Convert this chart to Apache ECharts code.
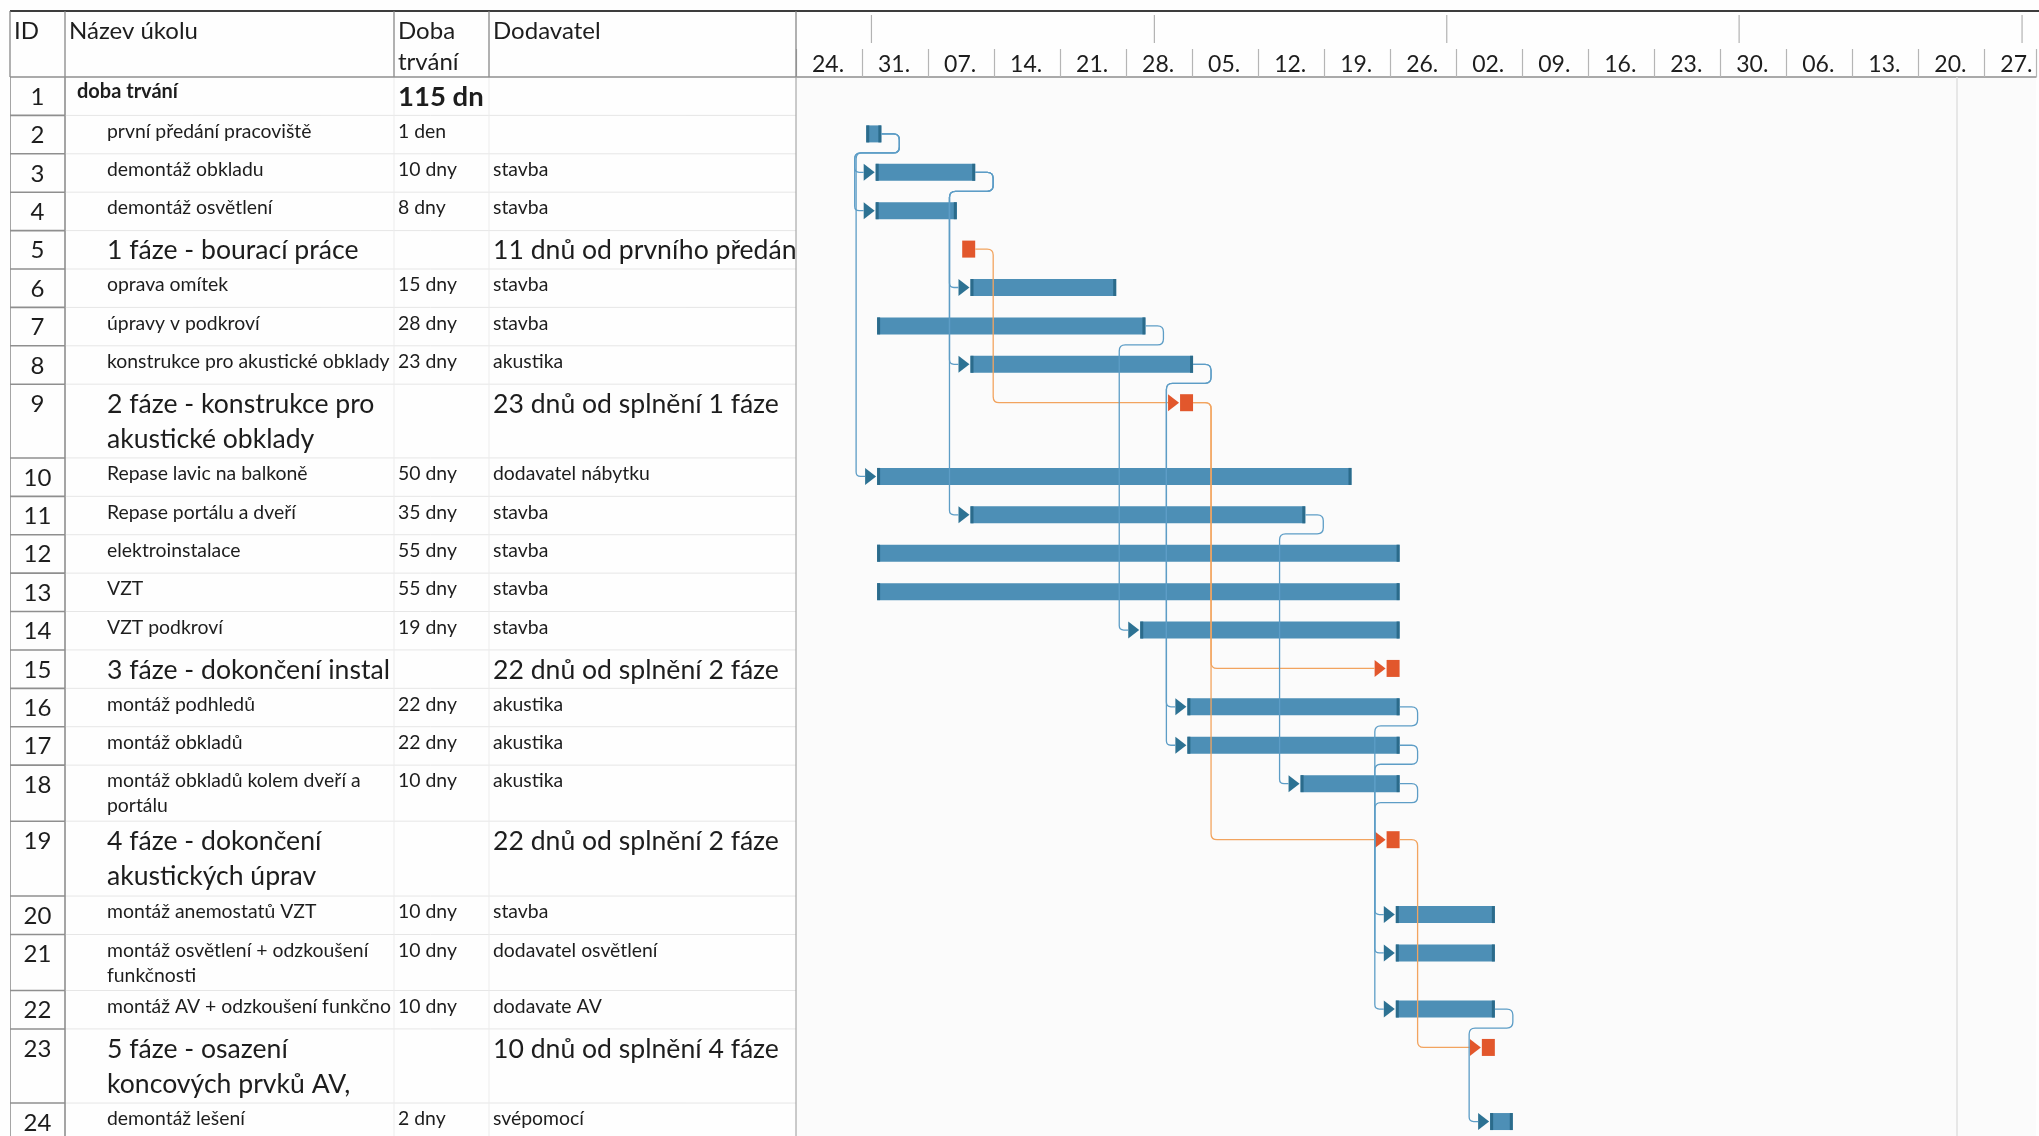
<!DOCTYPE html>
<html lang="cs">
<head>
<meta charset="utf-8">
<title>Harmonogram</title>
<script src="https://cdn.jsdelivr.net/npm/echarts@6/dist/echarts.min.js"></script>
<style>
html,body{margin:0;padding:0;background:#fefefe;}
#chart{width:2039px;height:1136px;}
</style>
</head>
<body>
<div id="chart"></div>
<script>
// ---------------- DATA ----------------
const columnHeaders = ['ID', 'Název úkolu', 'Doba trvání', 'Dodavatel'];
const taskIds = [1,2,3,4,5,6,7,8,9,10,11,12,13,14,15,16,17,18,19,20,21,22,23,24];
const taskNames = [
  'doba trvání',
  'první předání pracoviště',
  'demontáž obkladu',
  'demontáž osvětlení',
  '1 fáze - bourací práce',
  'oprava omítek',
  'úpravy v podkroví',
  'konstrukce pro akustické obklady',
  '2 fáze - konstrukce pro akustické obklady',
  'Repase lavic na balkoně',
  'Repase portálu a dveří',
  'elektroinstalace',
  'VZT',
  'VZT podkroví',
  '3 fáze - dokončení instalací',
  'montáž podhledů',
  'montáž obkladů',
  'montáž obkladů kolem dveří a portálu',
  '4 fáze - dokončení akustických úprav',
  'montáž anemostatů VZT',
  'montáž osvětlení + odzkoušení funkčnosti',
  'montáž AV + odzkoušení funkčnosti',
  '5 fáze - osazení koncových prvků AV,',
  'demontáž lešení'
];
const durations = ['115 dny','1 den','10 dny','8 dny','','15 dny','28 dny','23 dny','','50 dny','35 dny','55 dny',
  '55 dny','19 dny','','22 dny','22 dny','10 dny','','10 dny','10 dny','10 dny','','2 dny'];
const suppliers = ['','','stavba','stavba','11 dnů od prvního předání pracoviště','stavba','stavba','akustika',
  '23 dnů od splnění 1 fáze','dodavatel nábytku','stavba','stavba','stavba','stavba','22 dnů od splnění 2 fáze',
  'akustika','akustika','akustika','22 dnů od splnění 2 fáze','stavba','dodavatel osvětlení','dodavate AV',
  '10 dnů od splnění 4 fáze','svépomocí'];
const taskKinds = ['summary','task','task','task','phase','task','task','task','phase','task','task','task',
  'task','task','phase','task','task','task','phase','task','task','task','phase','task'];
// bar extents in days from the first timeline week (24.)
const barStart = [null,7.45,8.45,8.45,null,18.5,8.6,18.5,null,8.6,18.5,8.6,8.6,36.5,null,41.5,41.5,53.5,null,63.6,63.6,63.6,null,73.6];
const barEnd   = [null,9.05,19.0,17.05,null,33.95,37.05,42.1,null,58.9,54.0,64.0,64.0,64.0,null,64.0,64.0,64.0,null,74.1,74.1,74.1,null,76.0];
const milestoneDay = [null,null,null,null,19.0,null,null,null,42.1,null,null,null,null,null,64.0,null,null,null,64.0,null,null,null,74.1,null];
// dependencies [predecessor ID, successor ID]
const links = [[2,3],[2,4],[2,10],[3,6],[3,8],[3,11],[5,9],[7,14],[8,16],[8,17],[9,15],[9,19],[11,18],
  [16,20],[17,21],[18,22],[19,23],[22,24]];
const weekLabels = ['24.','31.','07.','14.','21.','28.','05.','12.','19.','26.','02.','09.','16.','23.','30.','06.','13.','20.','27.'];
const monthTickDays = [8, 38, 69, 100, 130];
const statusLineDay = [123.1];

// ---------------- LAYOUT ----------------
const FONT = 'Lato, "Open Sans", "DejaVu Sans", sans-serif';
const CANVAS_W = 2039, CANVAS_H = 1136;
const HEADER_TOP = 11, HEADER_BOTTOM = 77;
const COL_X = [10, 65, 394, 489, 796];
const HEADER_TEXT_X = [14, 69, 398, 493];
const PX_PER_DAY = 9.454;
const ROW_UNIT = 38.4;
const TALL_ROW_SPAN = {9: 1.92, 18: 1.46, 19: 1.95, 21: 1.46, 23: 1.93};
const ROW_SPAN = taskIds.map(id => TALL_ROW_SPAN[id] || 1);
const ROW_TOP = [];
(function(){ let acc = 0; ROW_SPAN.forEach(s => { ROW_TOP.push(acc); acc += s; }); })();
const Y_MAX = (CANVAS_H - HEADER_BOTTOM) / ROW_UNIT;
const X_MAX = (CANVAS_W - COL_X[4]) / PX_PER_DAY;
const BAR_CENTER_PX = 18.5, BAR_H = 17, BAR_CAP = 3, ARROW_W = 11, MS_W = 13;
const FS_SMALL = 19.4, FS_BIG = 26.6, FS_HEAD = 24, FS_ID = 24, FS_WEEK = 23;
const C_BAR = '#4d8fb6', C_CAP = '#2b6b8b', C_ARROW = '#2d7293', C_MS = '#e2572c';
const C_LINK = '#5d9dc6', C_LINK_MS = '#f2a45f';
const TEXT_C = '#1d1d1d';

const linkTargets = new Set(links.map(l => l[1] - 1));
function barY(i) { return ROW_TOP[i] + BAR_CENTER_PX / ROW_UNIT; }

// accurate text measuring (cell clipping / wrapping like a spreadsheet)
const mctx = document.createElement('canvas').getContext('2d');
function measure(str, fs, weight) {
  mctx.font = (weight || 'normal') + ' ' + fs + 'px ' + FONT;
  return mctx.measureText(str).width;
}
function clipToWidth(str, fs, w, weight) {
  if (measure(str, fs, weight) <= w) return str;
  let s = str;
  while (s.length > 0) {
    const full = measure(s, fs, weight);
    const last = measure(s.slice(-1), fs, weight);
    if (full - last * 0.45 <= w) break;
    s = s.slice(0, -1);
  }
  return s;
}
function wrapToWidth(str, fs, w, weight) {
  const words = str.split(' ');
  const lines = [];
  let cur = '';
  words.forEach(wd => {
    const cand = cur ? cur + ' ' + wd : wd;
    if (!cur || measure(cand, fs, weight) <= w) cur = cand;
    else { lines.push(cur); cur = wd; }
  });
  if (cur) lines.push(cur);
  return lines.join('\n');
}

function txt(str, x, y, o) {
  return { type: 'text', silent: true,
    style: Object.assign({ legacy: false, text: str, x: x, y: y, fill: TEXT_C, fontFamily: FONT,
      fontSize: FS_SMALL, fontWeight: 'normal', align: 'left', verticalAlign: 'top' }, o || {}) };
}
function seg(x1, y1, x2, y2, c, w) {
  return { type: 'line', silent: true, shape: { x1: x1, y1: y1, x2: x2, y2: y2 }, style: { stroke: c, lineWidth: w } };
}
function arrow(x, y, c) {
  return { type: 'polygon', shape: { points: [[x - ARROW_W - 1, y - BAR_H / 2], [x - 1, y], [x - ARROW_W - 1, y + BAR_H / 2]] },
    style: { fill: c } };
}
function roundedPath(pts, r) {
  let d = 'M' + pts[0][0].toFixed(2) + ' ' + pts[0][1].toFixed(2);
  for (let k = 1; k < pts.length - 1; k++) {
    const a = pts[k - 1], p = pts[k], b = pts[k + 1];
    const l1 = Math.hypot(p[0] - a[0], p[1] - a[1]) || 1, l2 = Math.hypot(b[0] - p[0], b[1] - p[1]) || 1;
    const rr = Math.min(r, l1 / 2, l2 / 2);
    const p1 = [p[0] - (p[0] - a[0]) / l1 * rr, p[1] - (p[1] - a[1]) / l1 * rr];
    const p2 = [p[0] + (b[0] - p[0]) / l2 * rr, p[1] + (b[1] - p[1]) / l2 * rr];
    d += ' L' + p1[0].toFixed(2) + ' ' + p1[1].toFixed(2) + ' Q' + p[0].toFixed(2) + ' ' + p[1].toFixed(2) + ' ' + p2[0].toFixed(2) + ' ' + p2[1].toFixed(2);
  }
  const e = pts[pts.length - 1];
  d += ' L' + e[0].toFixed(2) + ' ' + e[1].toFixed(2);
  return d;
}

function renderTableRow(params, api) {
  const i = api.value(0);
  const y0 = api.coord([0, ROW_TOP[i]])[1];
  const y1 = api.coord([0, ROW_TOP[i] + ROW_SPAN[i]])[1];
  const kind = taskKinds[i];
  const tall = ROW_SPAN[i] > 1;
  const big = kind === 'phase';
  const ch = [];
  ch.push(seg(COL_X[1], y1, COL_X[4], y1, '#e6e6e6', 1));
  ch.push(seg(COL_X[2], y0, COL_X[2], y1, '#ececec', 1));
  ch.push(seg(COL_X[3], y0, COL_X[3], y1, '#ececec', 1));
  ch.push(seg(COL_X[0], y1, COL_X[1], y1, '#8f8f8f', 1.6));
  ch.push(seg(COL_X[0], y0, COL_X[0], y1, '#8f8f8f', 1.6));
  ch.push(seg(COL_X[1], y0, COL_X[1], y1, '#8f8f8f', 1.6));
  ch.push(txt(String(taskIds[i]), (COL_X[0] + COL_X[1]) / 2, y0 + 20, { fontSize: FS_ID, align: 'center', verticalAlign: 'middle' }));
  const nameX = kind === 'summary' ? 77 : 107;
  const durX = COL_X[2] + 4, supX = COL_X[3] + 4;
  if (kind === 'summary') {
    ch.push(txt(taskNames[i], nameX, y0 + 15, { fontSize: 20, fontWeight: 'bold', verticalAlign: 'middle' }));
    ch.push(txt(clipToWidth(durations[i], 27.5, COL_X[3] - durX, 'bold'), durX, y0 + 20.5,
      { fontSize: 27.5, fontWeight: 'bold', verticalAlign: 'middle' }));
  } else {
    const fs = big ? FS_BIG : FS_SMALL, lh = big ? 35 : 25;
    const top = y0 + (big ? 20 : 16) - lh / 2;
    const topSmall = y0 + 16 - 12.5;
    const nameW = COL_X[2] - nameX;
    const name = tall ? wrapToWidth(taskNames[i], fs, nameW - 11) : clipToWidth(taskNames[i], fs, nameW);
    ch.push(txt(name, nameX, top, { fontSize: fs, lineHeight: lh }));
    if (durations[i]) ch.push(txt(clipToWidth(durations[i], FS_SMALL, COL_X[3] - durX), durX, topSmall, { fontSize: FS_SMALL, lineHeight: 25 }));
    if (suppliers[i]) ch.push(txt(clipToWidth(suppliers[i], fs, COL_X[4] - supX), supX, big ? top : topSmall, { fontSize: fs, lineHeight: lh }));
  }
  return { type: 'group', children: ch };
}

function renderBar(params, api) {
  const s = api.value(0), e = api.value(1), i = api.value(2);
  const p0 = api.coord([s, barY(i)]), p1 = api.coord([e, barY(i)]);
  const y = p0[1] - BAR_H / 2;
  const ch = [
    { type: 'rect', shape: { x: p0[0], y: y, width: p1[0] - p0[0], height: BAR_H }, style: { fill: C_BAR } },
    { type: 'rect', shape: { x: p0[0], y: y, width: BAR_CAP, height: BAR_H }, style: { fill: C_CAP } },
    { type: 'rect', shape: { x: p1[0] - BAR_CAP, y: y, width: BAR_CAP, height: BAR_H }, style: { fill: C_CAP } }
  ];
  if (linkTargets.has(i)) ch.push(arrow(p0[0], p0[1], C_ARROW));
  return { type: 'group', children: ch };
}

function renderMilestone(params, api) {
  const d = api.value(0), i = api.value(1);
  const p = api.coord([d, barY(i)]);
  const ch = [{ type: 'rect', shape: { x: p[0] - MS_W, y: p[1] - BAR_H / 2, width: MS_W, height: BAR_H }, style: { fill: C_MS } }];
  if (linkTargets.has(i)) ch.push(arrow(p[0] - MS_W, p[1], C_MS));
  return { type: 'group', children: ch };
}

function renderLink(params, api) {
  const k = api.value(0);
  const a = links[k][0] - 1, b = links[k][1] - 1;
  const endA = taskKinds[a] === 'phase' ? milestoneDay[a] : barEnd[a];
  const pe = api.coord([endA, barY(a)]);
  let ps;
  if (taskKinds[b] === 'phase') { ps = api.coord([milestoneDay[b], barY(b)]); ps[0] -= MS_W; }
  else ps = api.coord([barStart[b], barY(b)]);
  const xe = pe[0], yp = pe[1], xs = ps[0], ys = ps[1];
  const xv = xe + 18, tip = xs - ARROW_W - 1;
  let pts;
  if (xv <= xs - 21) pts = [[xe, yp], [xv, yp], [xv, ys], [tip, ys]];
  else {
    const ym = yp + 19, xl = xs - 21;
    pts = [[xe, yp], [xv, yp], [xv, ym], [xl, ym], [xl, ys], [tip, ys]];
  }
  const col = taskKinds[a] === 'phase' ? C_LINK_MS : C_LINK;
  return { type: 'path', shape: { pathData: roundedPath(pts, 6) }, style: { stroke: col, lineWidth: 1.3, fill: 'none' } };
}

// header graphic
const headerEls = [];
headerEls.push({ type: 'rect', z: 100, silent: true, shape: { x: COL_X[0], y: HEADER_TOP - 1, width: CANVAS_W - COL_X[0], height: 2 }, style: { fill: '#3d3d3d' } });
COL_X.forEach(x => headerEls.push(Object.assign(seg(x, HEADER_TOP, x, HEADER_BOTTOM, '#7d7d7d', 1.2), { z: 100 })));
headerEls.push(Object.assign(seg(COL_X[0], HEADER_BOTTOM, COL_X[4], HEADER_BOTTOM, '#8f8f8f', 1.5), { z: 100 }));
headerEls.push(Object.assign(seg(COL_X[4], HEADER_BOTTOM, COL_X[4], CANVAS_H, '#a8a8a8', 1.2), { z: 100 }));
columnHeaders.forEach((h, k) => {
  const t = txt(wrapToWidth(h, FS_HEAD, COL_X[k + 1] - HEADER_TEXT_X[k] - 4), HEADER_TEXT_X[k], 15.5, { fontSize: FS_HEAD, lineHeight: 31 });
  t.z = 100;
  headerEls.push(t);
});

const chart = echarts.init(document.getElementById('chart'), null, { renderer: 'canvas' });
chart.setOption({
  backgroundColor: '#fefefe',
  animation: false,
  graphic: { elements: headerEls },
  grid: [
    { left: COL_X[0], top: HEADER_BOTTOM, width: COL_X[4] - COL_X[0], bottom: 0 },
    { left: COL_X[4], top: HEADER_BOTTOM, right: 0, bottom: 0, show: true, backgroundColor: '#fbfbfb', borderWidth: 0 }
  ],
  xAxis: [
    { type: 'value', gridIndex: 0, min: 0, max: 1, show: false },
    { type: 'value', gridIndex: 1, position: 'top', min: 0, max: X_MAX, interval: 7,
      axisLine: { show: true, lineStyle: { color: '#8f8f8f', width: 1.5 } },
      axisTick: { show: true, length: 28, lineStyle: { color: '#b5b5b5', width: 1.2 } },
      splitLine: { show: false },
      axisLabel: { show: true, margin: 1, align: 'left', padding: [0, 0, 0, 16], color: TEXT_C,
        fontFamily: FONT, fontSize: FS_WEEK,
        formatter: function (v) { const k = Math.round(v / 7); return (Math.abs(v - 7 * k) < 0.01 && weekLabels[k]) ? weekLabels[k] : ''; } } }
  ],
  yAxis: [
    { type: 'value', gridIndex: 0, min: 0, max: Y_MAX, inverse: true, show: false },
    { type: 'value', gridIndex: 1, min: 0, max: Y_MAX, inverse: true, show: false }
  ],
  series: [
    { type: 'custom', name: 'tabulka', xAxisIndex: 0, yAxisIndex: 0, clip: true, silent: true,
      data: taskIds.map((id, i) => [i]), renderItem: renderTableRow },
    { type: 'custom', name: 'měsíce', xAxisIndex: 1, yAxisIndex: 1, clip: false, silent: true,
      data: monthTickDays.map(d => [d]),
      renderItem: function (p, api) { const x = api.coord([api.value(0), 0])[0];
        return seg(x, 15, x, 43, '#b3b3b3', 1.2); } },
    { type: 'custom', name: 'stav', xAxisIndex: 1, yAxisIndex: 1, clip: true, silent: true,
      data: statusLineDay.map(d => [d]),
      renderItem: function (p, api) { const a = api.coord([api.value(0), 0]), b = api.coord([api.value(0), Y_MAX]);
        return seg(a[0], a[1], b[0], b[1], '#e2e2e2', 1.6); } },
    { type: 'custom', name: 'úkoly', xAxisIndex: 1, yAxisIndex: 1, clip: true, z: 3,
      data: taskIds.map((id, i) => i).filter(i => barStart[i] != null).map(i => [barStart[i], barEnd[i], i]),
      renderItem: renderBar },
    { type: 'custom', name: 'milníky', xAxisIndex: 1, yAxisIndex: 1, clip: true, z: 3,
      data: taskIds.map((id, i) => i).filter(i => milestoneDay[i] != null).map(i => [milestoneDay[i], i]),
      renderItem: renderMilestone },
    { type: 'custom', name: 'vazby', xAxisIndex: 1, yAxisIndex: 1, clip: true, z: 4, silent: true,
      data: links.map((l, k) => [k]), renderItem: renderLink }
  ]
});
</script>
</body>
</html>
